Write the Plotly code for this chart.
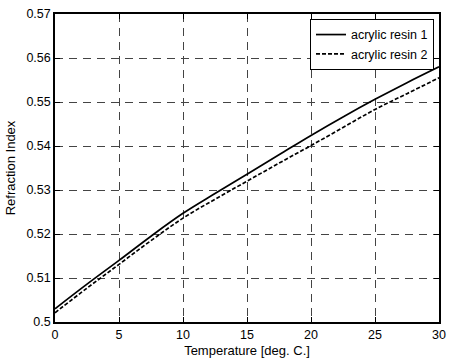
import plotly.graph_objects as go

temperature = [0, 2.5, 5, 7.5, 10, 12.5, 15, 17.5, 20, 22.5, 25, 27.5, 30]
resin1 = [0.5030, 0.5086, 0.5140, 0.5195, 0.5247, 0.5292, 0.5336, 0.5380,
          0.5424, 0.5466, 0.5506, 0.5544, 0.5580]
resin2 = [0.5021, 0.5077, 0.5131, 0.5185, 0.5236, 0.5279, 0.5320, 0.5361,
          0.5401, 0.5442, 0.5483, 0.5519, 0.5555]
series_names = ["acrylic resin 1", "acrylic resin 2"]

x_ticks = [0, 5, 10, 15, 20, 25, 30]
x_ticktext = ["0", "5", "10", "15", "20", "25", "30"]
y_ticks = [0.50, 0.51, 0.52, 0.53, 0.54, 0.55, 0.56, 0.57]
y_ticktext = ["0.5", "0.51", "0.52", "0.53", "0.54", "0.55", "0.56", "0.57"]

fig = go.Figure()
fig.add_trace(go.Scatter(x=temperature, y=resin1, mode="lines", name=series_names[0],
                         line=dict(color="black", width=1.7, shape="spline")))
fig.add_trace(go.Scatter(x=temperature, y=resin2, mode="lines", name=series_names[1],
                         line=dict(color="black", width=1.7, dash="4px,2px", shape="spline")))

axis_common = dict(
    showline=True, linecolor="black", linewidth=1.5, mirror="ticks",
    ticks="inside", ticklen=5, tickcolor="black", tickwidth=1,
    showgrid=True, gridcolor="#444444", griddash="8px,6px", gridwidth=1,
    zeroline=False, tickfont=dict(size=12.5, color="black", family="Liberation Sans"),
)

fig.update_xaxes(range=[0, 30], tickvals=x_ticks, ticktext=x_ticktext,
                 title=dict(text="Temperature [deg. C.]", standoff=5,
                            font=dict(size=13, color="black", family="Liberation Sans")),
                 **axis_common)
fig.update_yaxes(range=[0.5, 0.57], tickvals=y_ticks, ticktext=y_ticktext,
                 title=dict(text="Refraction Index", standoff=8,
                            font=dict(size=13, color="black", family="Liberation Sans")),
                 **axis_common)

fig.update_layout(
    width=453, height=363,
    margin=dict(l=55, r=7, t=14, b=40),
    paper_bgcolor="white", plot_bgcolor="white",
    font=dict(family="Liberation Sans", color="black"),
    legend=dict(x=0.987, y=0.984, xanchor="right", yanchor="top",
                bgcolor="white", bordercolor="black", borderwidth=1,
                font=dict(size=12.5, color="black", family="Liberation Sans"),
                itemwidth=30, tracegroupgap=0),
    showlegend=True,
)

fig.write_html("out.html")
